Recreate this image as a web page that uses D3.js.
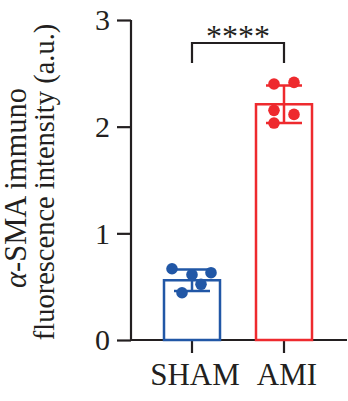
<!DOCTYPE html>
<html><head><meta charset="utf-8">
<script src="https://cdn.jsdelivr.net/npm/d3@7"></script>
<style>body{margin:0;background:#fff}svg{display:block}</style>
</head><body>
<script>
const categories = ["SHAM", "AMI"];
const means = [0.56, 2.21];
const sds = [0.1, 0.175];
const points = [
  [0.668, 0.612, 0.631, 0.522, 0.443],
  [2.40, 2.415, 2.153, 2.115, 2.034]
];
const jitter = [
  [-20, 0, 19, 9, -10],
  [-10, 10, -10, 10, -10]
];
const yTicks = [0, 1, 2, 3];
const colors = ["#2157a6", "#ee2a2e"];
const sigLabel = "****";

const W = 348, H = 401;
const svg = d3.select("body").append("svg").attr("width", W).attr("height", H);
const font = "'Liberation Serif', 'Times New Roman', serif";
const ink = "#231f20";

const y = d3.scaleLinear().domain([0, 3]).range([340, 20]);
const x = d3.scaleBand().domain(categories).range([146, 330]).paddingInner(0).paddingOuter(0);
const bw = 56;
const cx = c => x(c) + x.bandwidth() / 2;

// Y axis
const ya = svg.append("g").attr("transform", "translate(131,0)")
  .call(d3.axisLeft(y).tickValues(yTicks).tickSize(14).tickPadding(7).tickFormat(d3.format("d")));
ya.select(".domain").attr("stroke", ink).attr("stroke-width", 2.2).attr("d", `M0,${y(3)}V${y(0)}`);
ya.selectAll(".tick line").attr("stroke", ink).attr("stroke-width", 2.2);
ya.selectAll(".tick text").attr("font-family", font).attr("font-size", 30).attr("fill", ink).attr("dy", "0.33em");

// X axis
const xa = svg.append("g").attr("transform", `translate(0,${y(0)})`)
  .call(d3.axisBottom(x).tickSize(13).tickPadding(10));
xa.select(".domain").attr("stroke", ink).attr("stroke-width", 2.2).attr("d", `M131,0H347`);
xa.selectAll(".tick line").attr("stroke", ink).attr("stroke-width", 2.2);
xa.selectAll(".tick text").attr("font-family", font).attr("font-size", 31).attr("fill", ink).attr("dx", 3);

// Bars
categories.forEach((c, i) => {
  const g = svg.append("g");
  g.append("rect")
    .attr("x", cx(c) - bw / 2).attr("y", y(means[i]))
    .attr("width", bw).attr("height", y(0) - y(means[i]))
    .attr("fill", "none").attr("stroke", colors[i]).attr("stroke-width", 2.5);
  const hi = means[i] + sds[i], lo = means[i] - sds[i];
  g.append("line").attr("x1", cx(c)).attr("x2", cx(c)).attr("y1", y(hi)).attr("y2", y(lo))
    .attr("stroke", colors[i]).attr("stroke-width", 2.5);
  [hi, lo].forEach(v => g.append("line").attr("x1", cx(c) - 18).attr("x2", cx(c) + 18)
    .attr("y1", y(v)).attr("y2", y(v)).attr("stroke", colors[i]).attr("stroke-width", 2.5));
  g.selectAll("circle").data(points[i]).join("circle")
    .attr("cx", (d, j) => cx(c) + jitter[i][j]).attr("cy", d => y(d))
    .attr("r", 5.8).attr("fill", colors[i]);
});

// Significance bracket
const by = 43, bt = 63;
svg.append("path")
  .attr("d", `M${cx("SHAM")},${bt}V${by}H${cx("AMI")}V${bt}`)
  .attr("fill", "none").attr("stroke", ink).attr("stroke-width", 2.2);
svg.append("text").attr("x", (cx("SHAM") + cx("AMI")) / 2).attr("y", 47)
  .attr("text-anchor", "middle").attr("font-family", font).attr("font-size", 32)
  .attr("fill", ink).text(sigLabel);

// Y label
const l1 = svg.append("text").attr("transform", "translate(26,188) rotate(-90)")
  .attr("text-anchor", "middle").attr("font-family", font).attr("font-size", 30.5).attr("fill", ink);
l1.append("tspan").attr("font-style", "italic").text("α");
l1.append("tspan").text("-SMA immuno");
svg.append("text").attr("transform", "translate(54,182) rotate(-90)")
  .attr("text-anchor", "middle").attr("font-family", font).attr("font-size", 28.5).attr("fill", ink)
  .text("fluorescence intensity (a.u.)");
</script>
</body></html>
